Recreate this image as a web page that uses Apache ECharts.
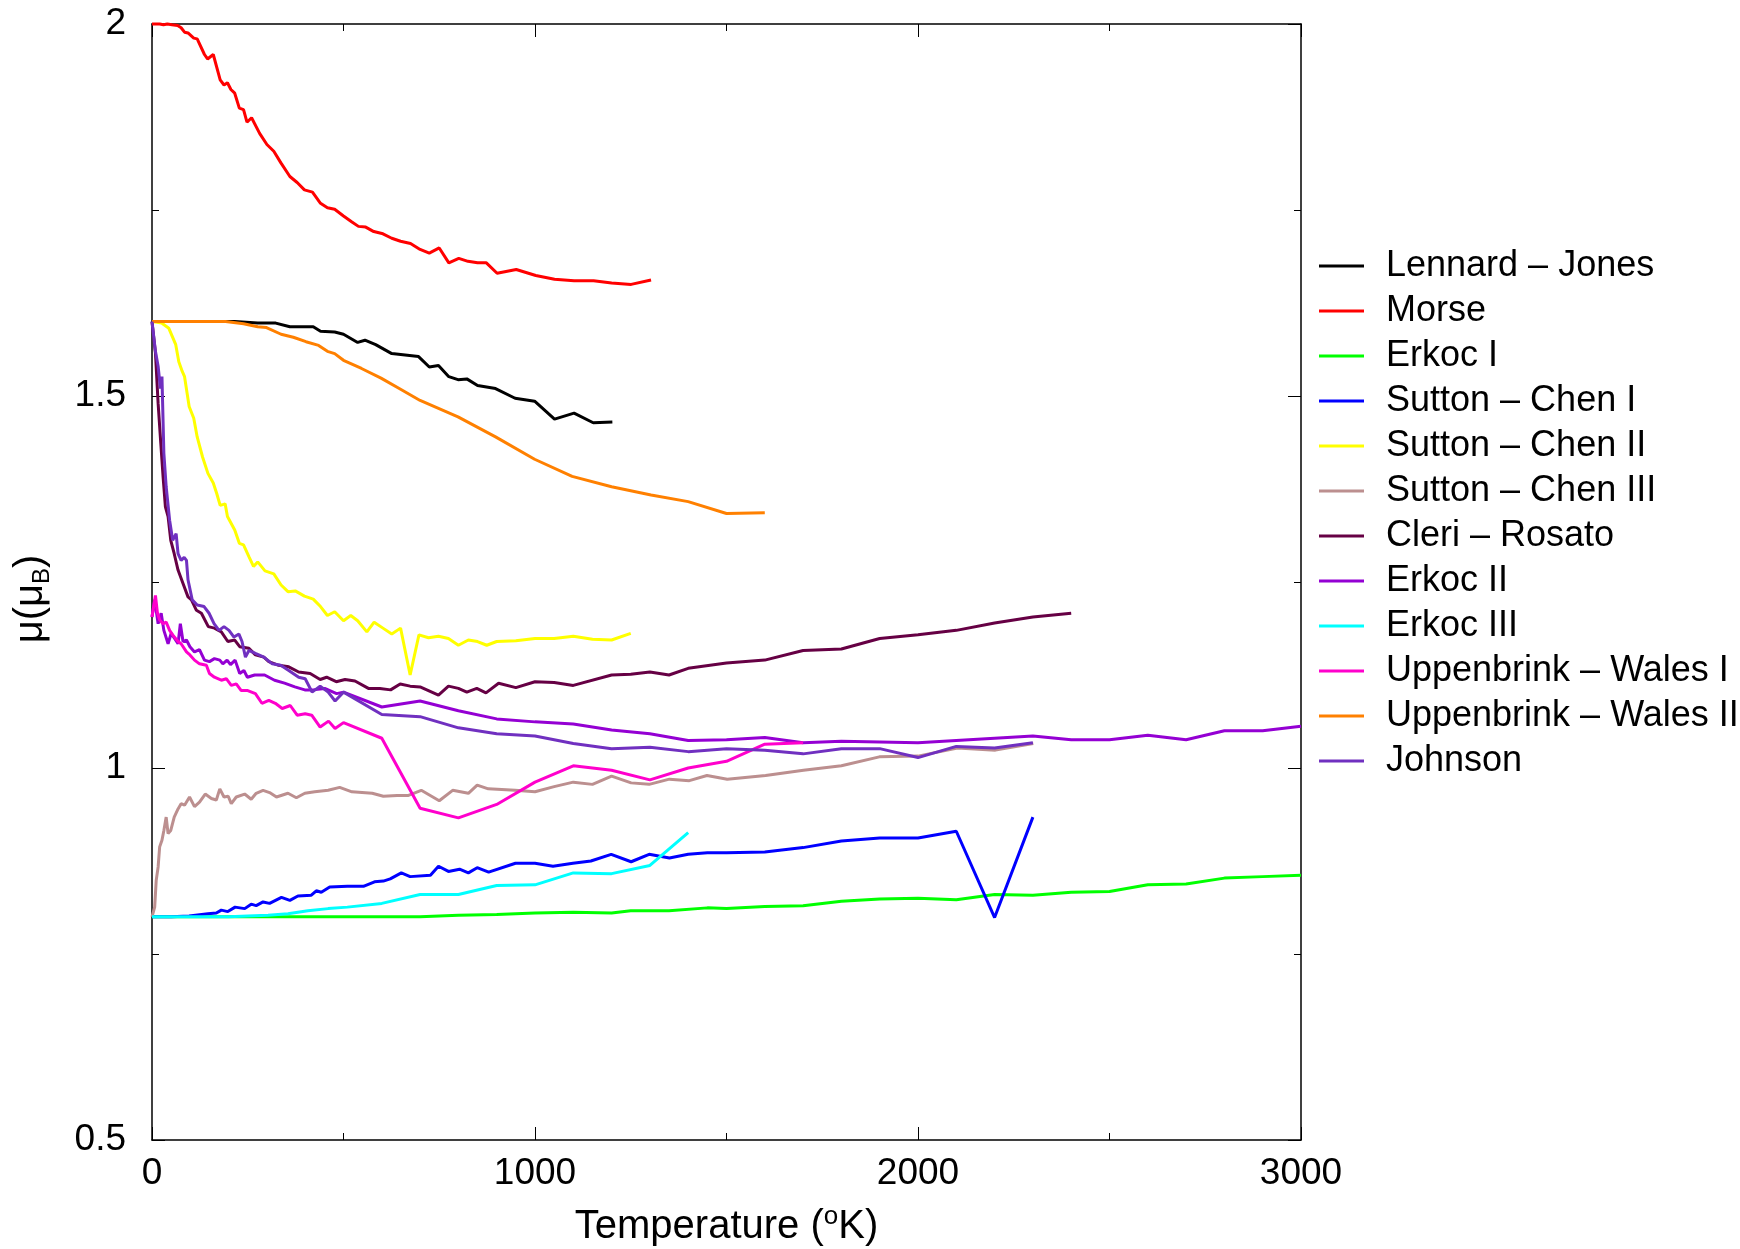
<!DOCTYPE html>
<html>
<head>
<meta charset="utf-8">
<script src="https://cdn.jsdelivr.net/npm/echarts@6/dist/echarts.min.js"></script>
<style>
  html, body { margin: 0; padding: 0; background: #fff; }
  #chart { width: 1740px; height: 1249px; }
</style>
</head>
<body>
<div id="chart"></div>
<script>
// [temperature (K), mu (mu_B)]
const lennardJones = [[0,1.6],[50,1.6],[100,1.6],[150,1.6],[192,1.6],[216,1.6],[276,1.598],[323,1.598],[360,1.593],[421,1.593],[440,1.587],[477,1.586],[500,1.583],[537,1.572],[556,1.575],[584,1.569],[626,1.557],[696,1.553],[724,1.539],[748,1.541],[775,1.526],[799,1.522],[822,1.523],[850,1.514],[897,1.510],[948,1.497],[999,1.493],[1051,1.469],[1102,1.477],[1152,1.464],[1202,1.465]];
const morse = [[0,2.0],[10,2.0],[20,2.0],[30,1.999],[40,2.0],[52,1.999],[67,1.998],[76,1.995],[85,1.989],[94,1.988],[109,1.981],[118,1.980],[137,1.959],[145,1.953],[160,1.959],[178,1.925],[188,1.918],[197,1.921],[206,1.912],[216,1.907],[228,1.887],[239,1.885],[248,1.868],[260,1.874],[281,1.853],[300,1.838],[318,1.829],[337,1.813],[360,1.795],[379,1.787],[398,1.777],[419,1.774],[440,1.759],[458,1.753],[477,1.751],[500,1.742],[522,1.734],[539,1.728],[558,1.727],[579,1.721],[603,1.718],[626,1.712],[649,1.708],[675,1.705],[700,1.697],[724,1.692],[750,1.699],[775,1.679],[801,1.685],[825,1.681],[850,1.679],[873,1.679],[901,1.665],[951,1.670],[1002,1.662],[1051,1.657],[1102,1.655],[1153,1.655],[1200,1.652],[1251,1.650],[1303,1.656]];
const erkocI = [[0,0.8],[100,0.8],[200,0.8],[300,0.8],[400,0.8],[500,0.8],[600,0.8],[700,0.8],[800,0.802],[900,0.803],[1000,0.805],[1100,0.806],[1200,0.805],[1250,0.808],[1350,0.808],[1450,0.812],[1500,0.811],[1600,0.814],[1700,0.815],[1800,0.821],[1900,0.824],[2000,0.825],[2100,0.823],[2200,0.830],[2300,0.829],[2400,0.833],[2500,0.834],[2600,0.843],[2700,0.844],[2800,0.852],[2900,0.854],[3000,0.856]];
const suttonChenI = [[0,0.8],[50,0.8],[97,0.801],[146,0.804],[168,0.805],[181,0.809],[198,0.807],[217,0.813],[242,0.811],[259,0.817],[272,0.815],[290,0.820],[307,0.818],[338,0.826],[360,0.822],[381,0.828],[416,0.829],[429,0.835],[442,0.833],[464,0.840],[510,0.841],[552,0.841],[581,0.847],[604,0.848],[622,0.851],[651,0.859],[674,0.854],[727,0.856],[748,0.868],[774,0.861],[803,0.864],[826,0.859],[849,0.866],[879,0.860],[949,0.872],[1000,0.872],[1047,0.868],[1099,0.872],[1146,0.875],[1199,0.884],[1251,0.874],[1298,0.884],[1351,0.879],[1400,0.884],[1450,0.886],[1500,0.886],[1600,0.887],[1700,0.893],[1800,0.902],[1900,0.906],[2000,0.906],[2100,0.915],[2200,0.799],[2300,0.934]];
const suttonChenII = [[0,1.6],[25,1.598],[44,1.591],[62,1.569],[70,1.546],[79,1.533],[85,1.526],[97,1.486],[109,1.470],[118,1.445],[132,1.418],[146,1.396],[160,1.383],[169,1.369],[178,1.353],[191,1.355],[197,1.338],[216,1.320],[228,1.302],[239,1.300],[253,1.284],[265,1.271],[276,1.277],[295,1.265],[318,1.261],[337,1.246],[355,1.237],[374,1.238],[398,1.231],[421,1.227],[440,1.217],[458,1.205],[477,1.210],[500,1.198],[519,1.205],[537,1.198],[561,1.183],[580,1.196],[603,1.188],[626,1.180],[649,1.188],[674,1.125],[697,1.179],[722,1.175],[748,1.177],[774,1.174],[800,1.165],[826,1.172],[850,1.170],[874,1.165],[900,1.170],[950,1.171],[1000,1.174],[1050,1.174],[1100,1.177],[1150,1.173],[1200,1.172],[1250,1.181]];
const suttonChenIII = [[0,0.8],[7,0.813],[11,0.849],[16,0.867],[20,0.894],[26,0.903],[31,0.916],[37,0.934],[42,0.912],[49,0.916],[58,0.934],[68,0.945],[76,0.952],[85,0.950],[98,0.961],[111,0.948],[124,0.954],[139,0.965],[155,0.959],[168,0.957],[177,0.972],[188,0.961],[199,0.962],[207,0.952],[220,0.961],[242,0.965],[259,0.958],[272,0.966],[290,0.970],[307,0.967],[325,0.961],[355,0.966],[377,0.960],[399,0.966],[425,0.968],[460,0.970],[490,0.974],[522,0.968],[575,0.966],[604,0.962],[640,0.963],[668,0.963],[703,0.970],[750,0.956],[785,0.970],[826,0.966],[849,0.977],[878,0.972],[948,0.970],[1000,0.968],[1050,0.975],[1100,0.981],[1150,0.978],[1200,0.989],[1251,0.980],[1298,0.978],[1351,0.985],[1403,0.983],[1449,0.990],[1502,0.985],[1602,0.990],[1701,0.997],[1800,1.003],[1899,1.015],[2000,1.016],[2103,1.027],[2202,1.024],[2301,1.033]];
const cleriRosato = [[0,1.6],[9,1.558],[16,1.49],[23,1.436],[29,1.391],[35,1.351],[42,1.338],[49,1.306],[58,1.288],[68,1.266],[81,1.248],[94,1.230],[103,1.226],[116,1.212],[129,1.208],[147,1.190],[163,1.188],[181,1.183],[198,1.170],[216,1.172],[229,1.163],[253,1.161],[270,1.152],[292,1.149],[305,1.143],[331,1.138],[357,1.136],[383,1.129],[413,1.127],[439,1.119],[456,1.122],[481,1.116],[504,1.119],[530,1.117],[565,1.107],[595,1.107],[623,1.105],[648,1.113],[674,1.110],[700,1.109],[748,1.098],[774,1.110],[800,1.107],[822,1.102],[848,1.107],[872,1.101],[905,1.114],[950,1.108],[1000,1.116],[1050,1.115],[1100,1.111],[1200,1.125],[1250,1.126],[1300,1.129],[1350,1.125],[1400,1.134],[1500,1.141],[1600,1.145],[1700,1.158],[1800,1.160],[1900,1.174],[2000,1.179],[2100,1.185],[2200,1.195],[2300,1.203],[2400,1.208]];
const erkocII = [[0,1.203],[7,1.226],[16,1.194],[24,1.208],[31,1.185],[42,1.167],[50,1.181],[59,1.174],[68,1.167],[74,1.194],[81,1.170],[90,1.172],[99,1.163],[111,1.156],[124,1.159],[137,1.145],[150,1.143],[163,1.147],[177,1.145],[185,1.140],[196,1.145],[205,1.139],[217,1.145],[229,1.127],[240,1.131],[249,1.122],[268,1.125],[294,1.125],[320,1.118],[346,1.114],[373,1.109],[399,1.105],[421,1.105],[451,1.107],[482,1.100],[500,1.102],[600,1.082],[700,1.090],[800,1.077],[900,1.066],[1000,1.062],[1100,1.059],[1200,1.051],[1300,1.046],[1400,1.037],[1500,1.038],[1600,1.041],[1700,1.034],[1800,1.036],[1900,1.035],[2000,1.034],[2100,1.037],[2200,1.040],[2300,1.043],[2400,1.038],[2500,1.038],[2600,1.044],[2700,1.038],[2800,1.050],[2900,1.050],[3000,1.056]];
const erkocIII = [[0,0.8],[100,0.8],[200,0.8],[250,0.801],[303,0.802],[355,0.804],[407,0.808],[460,0.811],[510,0.813],[600,0.818],[700,0.830],[800,0.830],[900,0.842],[1000,0.843],[1100,0.859],[1200,0.858],[1300,0.869],[1400,0.913]];
const uppenbrinkWalesI = [[0,1.203],[9,1.232],[14,1.209],[20,1.199],[29,1.194],[37,1.196],[46,1.185],[54,1.179],[68,1.170],[76,1.167],[90,1.156],[99,1.152],[111,1.145],[124,1.140],[142,1.138],[150,1.127],[163,1.122],[181,1.118],[194,1.120],[207,1.111],[220,1.113],[233,1.104],[250,1.104],[270,1.100],[287,1.087],[305,1.091],[322,1.087],[340,1.080],[361,1.084],[379,1.071],[400,1.073],[417,1.071],[439,1.055],[461,1.063],[478,1.053],[500,1.061],[600,1.040],[700,0.946],[800,0.933],[900,0.951],[1000,0.981],[1100,1.003],[1200,0.997],[1300,0.984],[1400,1.000],[1500,1.009],[1600,1.032],[1700,1.034]];
const uppenbrinkWalesII = [[0,1.6],[100,1.6],[192,1.6],[239,1.597],[276,1.593],[299,1.592],[337,1.583],[369,1.579],[402,1.573],[435,1.568],[458,1.560],[477,1.557],[500,1.548],[547,1.537],[598,1.524],[649,1.509],[700,1.494],[799,1.472],[897,1.445],[999,1.415],[1097,1.392],[1200,1.378],[1303,1.367],[1400,1.358],[1500,1.342],[1600,1.343]];
const johnson = [[0,1.6],[9,1.56],[16,1.54],[22,1.51],[26,1.526],[31,1.423],[37,1.378],[46,1.333],[54,1.306],[63,1.315],[68,1.288],[76,1.279],[84,1.283],[90,1.279],[94,1.253],[105,1.226],[118,1.219],[136,1.217],[149,1.208],[162,1.194],[175,1.185],[188,1.190],[201,1.185],[214,1.176],[227,1.180],[235,1.170],[244,1.149],[253,1.158],[270,1.154],[292,1.149],[314,1.140],[336,1.138],[357,1.131],[383,1.122],[400,1.120],[418,1.102],[439,1.110],[460,1.102],[478,1.090],[500,1.102],[600,1.072],[700,1.069],[800,1.054],[900,1.046],[1000,1.043],[1100,1.033],[1200,1.026],[1300,1.028],[1400,1.022],[1500,1.026],[1600,1.024],[1700,1.019],[1800,1.026],[1900,1.026],[2000,1.014],[2100,1.029],[2200,1.027],[2300,1.034]];

const seriesNames = ['Lennard \u2013 Jones', 'Morse', 'Erkoc I', 'Sutton \u2013 Chen I', 'Sutton \u2013 Chen II', 'Sutton \u2013 Chen III', 'Cleri \u2013 Rosato', 'Erkoc II', 'Erkoc III', 'Uppenbrink \u2013 Wales I', 'Uppenbrink \u2013 Wales II', 'Johnson'];
const seriesData = [lennardJones, morse, erkocI, suttonChenI, suttonChenII, suttonChenIII, cleriRosato, erkocII, erkocIII, uppenbrinkWalesI, uppenbrinkWalesII, johnson];
const seriesColors = ['#000000', '#ff0000', '#00ff00', '#0000ff', '#ffff00', '#bc8f8f', '#660044', '#9400d3', '#00ffff', '#ff00cc', '#ff8000', '#7030c0'];

const xTicks = [0, 3000, 1000];
const yTicks = [0.5, 2, 0.5];

const font = 'Liberation Sans, Arial, sans-serif';

let chart = echarts.init(document.getElementById('chart'), null, {renderer: 'canvas'});

function frameAxis(pos, isX) {
  return {
    type: 'value',
    position: pos,
    min: isX ? xTicks[0] : yTicks[0],
    max: isX ? xTicks[1] : yTicks[1],
    interval: isX ? xTicks[2] : yTicks[2],
    axisLine: {show: true, onZero: false, lineStyle: {color: '#000', width: 1.5}},
    axisTick: {show: true, inside: true, length: 13, lineStyle: {color: '#000', width: 1}},
    minorTick: {show: true, splitNumber: 2, length: 7, lineStyle: {color: '#000', width: 1}},
    axisLabel: {show: false},
    splitLine: {show: false}
  };
}

let xMain = frameAxis('bottom', true);
xMain.axisLabel = {
  show: true, margin: 15, fontSize: 37, color: '#000', fontFamily: font,
  formatter: v => String(v)
};
xMain.name = '{n|Temperature (}{s|o}{n|K)}';
xMain.nameLocation = 'middle';
xMain.nameGap = 64;
xMain.nameTextStyle = {
  fontFamily: font,
  padding: [0, 0, 0, 0],
  rich: {
    n: {fontSize: 40, lineHeight: 46, color: '#000', fontFamily: font},
    s: {fontSize: 26, lineHeight: 26, verticalAlign: 'top', color: '#000', fontFamily: font}
  }
};

let yMain = frameAxis('left', false);
yMain.axisLabel = {
  show: true, margin: 26, fontSize: 37, color: '#000', fontFamily: font,
  formatter: v => String(v)
};
yMain.name = '{n|\u03bc(\u03bc}{b|B}{n|)}';
yMain.nameLocation = 'middle';
yMain.nameGap = 98;
yMain.nameTextStyle = {
  fontFamily: font,
  padding: [0, 34, 0, 0],
  rich: {
    n: {fontSize: 40, lineHeight: 46, color: '#000', fontFamily: font},
    b: {fontSize: 24, lineHeight: 24, verticalAlign: 'bottom', color: '#000', fontFamily: font}
  }
};

let option = {
  backgroundColor: '#ffffff',
  animation: false,
  grid: {left: 152, top: 24, width: 1149, height: 1116, containLabel: false, outerBoundsMode: 'none'},
  legend: {
    orient: 'vertical',
    left: 1314,
    top: 243,
    itemWidth: 45,
    itemHeight: 3,
    itemGap: 9,
    icon: 'rect',
    textStyle: {fontSize: 36, lineHeight: 35, color: '#000', fontFamily: font, padding: [0, 0, 0, 17]},
    data: seriesNames
  },
  xAxis: [xMain, frameAxis('top', true)],
  yAxis: [yMain, frameAxis('right', false)],
  series: seriesNames.map((name, i) => ({
    name: name,
    type: 'line',
    data: seriesData[i],
    showSymbol: false,
    symbol: 'none',
    clip: false,
    color: seriesColors[i],
    lineStyle: {width: 3, color: seriesColors[i]},
    xAxisIndex: 0,
    yAxisIndex: 0
  }))
};

chart.setOption(option);
window.addEventListener('resize', function () {
  chart.resize();
});
</script>
</body>
</html>
